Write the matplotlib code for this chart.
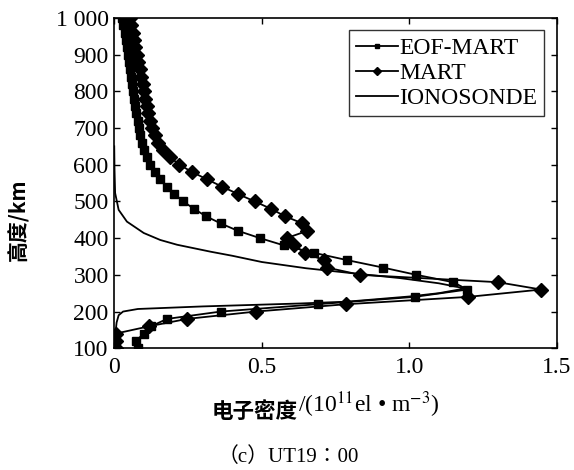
import matplotlib
matplotlib.use("Agg")
import matplotlib.pyplot as plt

plt.rcParams['font.family'] = ['Liberation Serif', 'Noto Sans CJK SC']
plt.rcParams['mathtext.fontset'] = 'stix'

# --- Data (altitude in km, density in 1e11 el/m^3) ---
eof_alt = [100, 120, 140, 160, 180, 200, 220, 240, 260, 280, 300, 320, 340, 360, 380,
           400, 420, 440, 460, 480, 500, 520, 540, 560, 580, 600, 620, 640, 660, 680,
           700, 720, 740, 760, 780, 800, 820, 840, 860, 880, 900, 920, 940, 960, 980, 1000]
eof_ne = [0.080, 0.074, 0.100, 0.125, 0.179, 0.361, 0.689, 1.018, 1.197, 1.149, 1.024, 0.910,
          0.790, 0.677, 0.576, 0.494, 0.419, 0.361, 0.310, 0.270, 0.234, 0.204, 0.179, 0.156,
          0.139, 0.122, 0.111, 0.101, 0.094, 0.088, 0.083, 0.079, 0.075, 0.071, 0.067, 0.063,
          0.060, 0.057, 0.053, 0.050, 0.046, 0.043, 0.039, 0.035, 0.031, 0.027]

mart_alt = [100, 120, 140, 160, 180, 200, 220, 240, 260, 280, 300, 320, 340, 360, 380,
            400, 420, 440, 460, 480, 500, 520, 540, 560, 580, 600, 620, 640, 660, 680,
            700, 720, 740, 760, 780, 800, 820, 840, 860, 880, 900, 920, 940, 960, 980, 1000]
mart_ne = [0.005, 0.005, 0.005, 0.119, 0.247, 0.480, 0.786, 1.200, 1.447, 1.300, 0.834, 0.720,
           0.710, 0.648, 0.608, 0.584, 0.655, 0.638, 0.578, 0.531, 0.476, 0.420, 0.366, 0.315,
           0.264, 0.221, 0.190, 0.165, 0.149, 0.137, 0.128, 0.122, 0.116, 0.111, 0.106, 0.101,
           0.097, 0.092, 0.087, 0.082, 0.077, 0.072, 0.067, 0.062, 0.057, 0.052]

iono_alt = [100, 140, 170, 190, 200, 207, 214, 222, 227, 241, 250, 263, 277, 291, 305,
            318, 335, 352, 363, 382, 395, 414, 445, 477, 523, 586, 650]
iono_ne = [0.002, 0.004, 0.008, 0.015, 0.03, 0.08, 0.30, 0.63, 0.79, 1.00, 1.10, 1.19,
           1.10, 0.97, 0.80, 0.65, 0.50, 0.40, 0.327, 0.213, 0.156, 0.10, 0.043, 0.015,
           0.003, 0.001, 0.0]

xticks = [0, 0.5, 1.0, 1.5]
xtick_labels = ['0', '0.5', '1.0', '1.5']
yticks = [100, 200, 300, 400, 500, 600, 700, 800, 900, 1000]
ytick_labels = ['100', '200', '300', '400', '500', '600', '700', '800', '900', '1 000']

fig = plt.figure(figsize=(5.74, 4.70), dpi=100)
ax = fig.add_axes([0.199, 0.259, 0.771, 0.703])

ax.plot(eof_ne, eof_alt, color='black', lw=1.3, marker='s', ms=6, label='EOF-MART')
ax.plot(mart_ne, mart_alt, color='black', lw=1.3, marker='D', ms=7, label='MART')
ax.plot(iono_ne, iono_alt, color='black', lw=1.3, label='IONOSONDE')

ax.set_xlim(0, 1.5)
ax.set_ylim(100, 1000)
ax.set_xticks(xticks)
ax.set_xticklabels(xtick_labels)
ax.set_yticks(yticks)
ax.set_yticklabels(ytick_labels)
ax.tick_params(direction='in', top=True, right=True, labelsize=17, length=4, width=1)
ax.tick_params(axis='y', pad=4)
ax.tick_params(axis='x', pad=6)
for s in ax.spines.values():
    s.set_linewidth(1.2)

leg = ax.legend(loc='upper right', bbox_to_anchor=(0.972, 0.962), borderaxespad=0,
                fontsize=17, frameon=True, fancybox=False, edgecolor='black',
                handlelength=1.8, handletextpad=0.05, labelspacing=0.15,
                borderpad=0.3, markerscale=0.55)
leg.get_frame().set_linewidth(1.0)

# y label
fig.text(18 / 574, 1 - 220 / 470, '高度/km', rotation=90, ha='center', va='center',
         fontsize=15, fontweight='bold', family=['Noto Sans CJK SC'])

# x label: bold CJK part + regular serif part
t1 = fig.text(212 / 574, 1 - 422 / 470, '电子密度', ha='left', va='bottom',
              fontsize=15.5, fontweight='bold', family=['Noto Sans CJK SC'])
fig.canvas.draw()
ax.annotate('/(10$^{11}$el • m$^{-3}$)', xy=(1, 0.08), xycoords=t1, ha='left', va='bottom',
            fontsize=17, annotation_clip=False)

# caption
fig.text(288 / 574, 1 - 457 / 470, '（c）UT19∶00', ha='center', va='center', fontsize=15)

fig.savefig('out.png', dpi=100)
